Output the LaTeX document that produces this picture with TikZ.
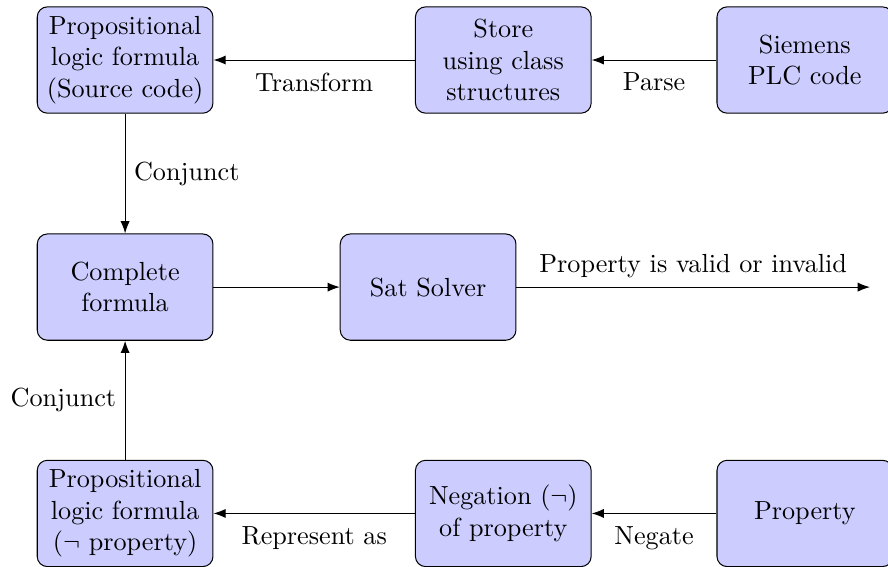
\documentclass[tikz,border=0pt]{standalone}
\usepackage{amsmath,amssymb}
\usepackage{xcolor}
\usepackage{tikz}
\usetikzlibrary{arrows.meta}

\begin{document}
\begin{tikzpicture}[>=Latex,font=\fontsize{10.3pt}{12.4pt}\selectfont,
  stage/.style={draw,rounded corners,fill=blue!20,align=center,
    minimum width=2.43cm,minimum height=1.47cm},
  under/.style={midway,below,yshift=-1.5pt}]
  \useasboundingbox (0,0) rectangle (12.28,-7.84);
  % top row
  \node[stage] (propsrc) at (1.73,-0.83) {Propositional\\logic formula\\(Source code)};
  \node[stage] (store) at (6.96,-0.83) {Store\\using class\\structures};
  \node[stage] (plc) at (11.13,-0.83) {Siemens\\PLC code};
  % middle row
  \node[stage] (complete) at (1.73,-3.97) {Complete\\formula};
  \node[stage] (sat) at (5.92,-3.97) {Sat Solver};
  \coordinate (result) at (12.03,-3.97);
  % bottom row
  \node[stage] (propneg) at (1.73,-7.10) {Propositional\\logic formula\\($\neg$ property)};
  \node[stage] (negation) at (6.96,-7.10) {Negation ($\neg$)\\of property};
  \node[stage] (property) at (11.13,-7.10) {Property};

  \draw[->] (plc) -- (store) node[under]{Parse};
  \draw[->] (store) -- (propsrc) node[under]{Transform};
  \draw[->] (propsrc) -- (complete) node[midway,right]{Conjunct};
  \draw[->] (complete) -- (sat);
  \draw[->] (sat) -- (result) node[midway,above]{Property is valid or invalid};
  \draw[->] (property) -- (negation) node[under]{Negate};
  \draw[->] (negation) -- (propneg) node[under]{Represent as};
  \draw[->] (propneg) -- (complete) node[midway,left]{Conjunct};
\end{tikzpicture}
\end{document}
